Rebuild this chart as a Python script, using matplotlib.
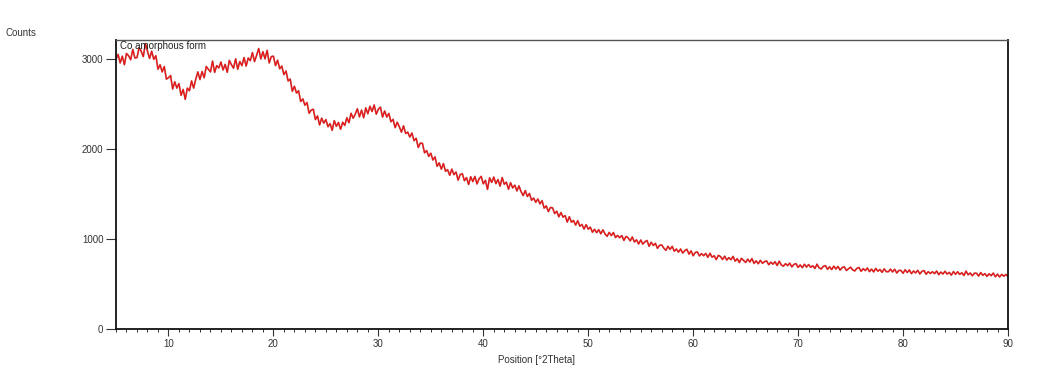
import numpy as np
import matplotlib
matplotlib.use("Agg")
import matplotlib.pyplot as plt
from matplotlib.ticker import MultipleLocator

plt.rcParams['font.family'] = ['Liberation Sans', 'DejaVu Sans']

# 2Theta positions: 5.0 to 90.0 in 0.2 degree steps
theta_start = 5.0
theta_step = 0.2

counts = [
    3000, 3055, 2960, 3035, 2940, 3065, 3040, 2995, 3110, 3015,
    3020, 3130, 3090, 3030, 3175, 3090, 3010, 3090, 3000, 3040,
    2890, 2940, 2860, 2920, 2780, 2795, 2820, 2670, 2750, 2680,
    2730, 2600, 2665, 2555, 2680, 2650, 2760, 2680, 2780, 2860,
    2775, 2865, 2795, 2920, 2890, 2860, 2980, 2855, 2930, 2905,
    2970, 2882, 2944, 2856, 2988, 2940, 2902, 3005, 2890, 2975,
    2930, 3020, 2925, 3015, 2985, 3075, 2975, 3045, 3120, 3005,
    3085, 3005, 3100, 2960, 3030, 3035, 2930, 2990, 2895, 2925,
    2830, 2870, 2760, 2780, 2645, 2700, 2625, 2650, 2530, 2560,
    2490, 2520, 2400, 2435, 2445, 2330, 2370, 2270, 2345, 2290,
    2330, 2250, 2285, 2210, 2318, 2255, 2298, 2222, 2300, 2265,
    2350, 2295, 2400, 2345, 2390, 2450, 2360, 2435, 2350, 2460,
    2395, 2478, 2420, 2492, 2390, 2445, 2468, 2358, 2425, 2358,
    2398, 2305, 2332, 2240, 2300, 2250, 2190, 2260, 2175, 2190,
    2135, 2180, 2095, 2122, 2020, 2068, 2065, 1960, 1985, 1920,
    1955, 1880, 1915, 1810, 1848, 1778, 1840, 1755, 1772, 1710,
    1778, 1717, 1746, 1656, 1717, 1728, 1650, 1684, 1608, 1694,
    1640, 1697, 1614, 1671, 1698, 1615, 1654, 1553, 1682, 1631,
    1690, 1617, 1663, 1589, 1685, 1610, 1633, 1555, 1627, 1569,
    1600, 1536, 1592, 1528, 1484, 1540, 1474, 1508, 1432, 1456,
    1410, 1446, 1392, 1428, 1344, 1370, 1306, 1352, 1348, 1284,
    1310, 1248, 1296, 1244, 1262, 1190, 1249, 1188, 1207, 1156,
    1205, 1144, 1163, 1112, 1161, 1110, 1133, 1076, 1109, 1072,
    1105, 1059, 1103, 1057, 1031, 1075, 1039, 1073, 1017, 1041,
    1015, 1040, 985, 1030, 1015, 980, 1024, 968, 992, 946,
    990, 945, 970, 985, 920, 965, 929, 953, 897, 931,
    935, 900, 875, 920, 885, 920, 865, 890, 855, 890,
    845, 871, 887, 833, 869, 815, 851, 857, 813, 839,
    815, 841, 797, 843, 799, 815, 772, 819, 806, 773,
    810, 767, 794, 771, 808, 755, 782, 739, 786, 763,
    740, 777, 745, 783, 730, 758, 726, 764, 731, 749,
    757, 715, 743, 721, 749, 706, 754, 712, 699, 727,
    705, 733, 691, 719, 727, 685, 713, 682, 720, 689,
    717, 686, 704, 673, 721, 680, 668, 697, 705, 664,
    692, 661, 699, 668, 696, 655, 684, 692, 651, 669,
    688, 657, 646, 675, 684, 642, 671, 650, 679, 638,
    666, 635, 674, 643, 662, 630, 669, 638, 637, 666,
    635, 664, 623, 652, 651, 620, 659, 628, 657, 616,
    645, 624, 653, 612, 641, 650, 609, 638, 617, 637,
    616, 645, 604, 633, 612, 642, 611, 630, 599, 639,
    608, 637, 607, 626, 595, 644, 603, 623, 592, 621,
    620, 589, 628, 597, 616, 585, 614, 593, 622, 581,
    610, 579, 608, 587, 606, 585,
]
theta = theta_start + theta_step * np.arange(len(counts))

x_ticks = [10, 20, 30, 40, 50, 60, 70, 80, 90]
y_ticks = [0, 1000, 2000, 3000]
title_text = "Co amorphous form"
x_label = "Position [°2Theta]"
y_label = "Counts"

fig = plt.figure(figsize=(10.58, 3.85), dpi=100)
ax = fig.add_axes([116/1058, 1 - 329/385, (1008-116)/1058, (329-40)/385])

ax.plot(theta, counts, color='#9a2a2a', lw=1.3, alpha=0.55)
ax.plot(theta, counts, color='#e41414', lw=0.9)

ax.set_xlim(5, 90)
ax.set_ylim(0, 3215)
ax.set_xticks(x_ticks)
ax.xaxis.set_minor_locator(MultipleLocator(1))
ax.set_yticks(y_ticks)

ax.tick_params(axis='x', which='major', direction='out', length=5, width=0.8,
               labelsize=7, colors='#333333', pad=2)
ax.tick_params(axis='x', which='minor', direction='out', length=2.5, width=0.7,
               colors='#333333')
ax.tick_params(axis='y', which='major', direction='out', length=7, width=0.8,
               labelsize=7, colors='#333333', pad=2)

for side in ['left', 'bottom', 'right']:
    ax.spines[side].set_color('#111111')
    ax.spines[side].set_linewidth(1.3)
ax.spines['top'].set_color('#555555')
ax.spines['top'].set_linewidth(1.0)

ax.text(0.004, 0.995, title_text, transform=ax.transAxes, ha='left', va='top',
        fontsize=7, color='#222222')
fig.text(5/1058, 1 - 33/385, y_label, ha='left', va='center', fontsize=7,
         color='#333333')
fig.text(537/1058, 1 - 360/385, x_label, ha='center', va='center', fontsize=7,
         color='#333333')

fig.savefig("out.png", dpi=100)
